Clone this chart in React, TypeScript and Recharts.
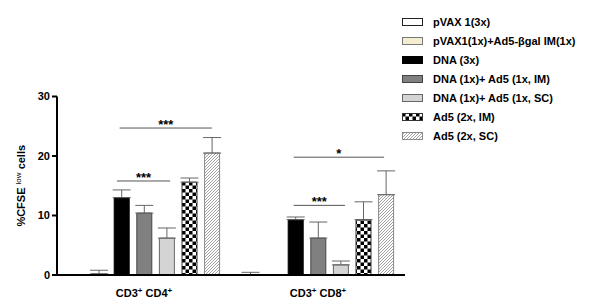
import { Bar, BarChart, ErrorBar, ReferenceLine, XAxis, YAxis } from "recharts";

const categories = ["CD4", "CD8"];
const catPos = [0.5, 1.5];

const seriesNames = [
  "pVAX 1(3x)",
  "pVAX1(1x)+Ad5-βgal IM(1x)",
  "DNA (3x)",
  "DNA (1x)+ Ad5 (1x, IM)",
  "DNA (1x)+ Ad5 (1x, SC)",
  "Ad5 (2x, IM)",
  "Ad5 (2x, SC)",
];

// mean per series, [CD4, CD8]
const means = [
  [0, 0.05],
  [0.2, 0],
  [13.0, 9.3],
  [10.4, 6.2],
  [6.2, 1.7],
  [15.6, 9.3],
  [20.5, 13.5],
];

// upper error (SEM) per series, [CD4, CD8]
const errors = [
  [null, 0.4],
  [0.6, null],
  [1.3, 0.45],
  [1.3, 2.7],
  [1.7, 0.65],
  [0.7, 3.0],
  [2.6, 4.0],
];

const yTicks = [0, 10, 20, 30];

// significance brackets: [x1, x2, y, label] with x on a 0..2 scale
const brackets: [number, number, number, string][] = [
  [0.36, 0.89, 24.7, "***"],
  [0.345, 0.65, 15.8, "***"],
  [1.36, 1.88, 19.8, "*"],
  [1.36, 1.655, 11.7, "***"],
];

const fills = ["#ffffff", "#f3eecf", "#000000", "#808080", "#d4d4d4", "url(#checker)", "url(#hatch)"];
const strokes = ["#222", "#777", "#000", "#444", "#666", "#333", "#888"];

const data = categories.map((c, i) => {
  const row: any = { cat: c, pos: catPos[i] };
  means.forEach((m, s) => {
    row["s" + s] = m[i];
    row["e" + s] = errors[s][i] == null ? null : [0, errors[s][i]];
  });
  return row;
});

const font = "'Liberation Sans', Arial, sans-serif";

function CatTick({ x, y, payload }: any) {
  const n = payload.value.replace("CD", "");
  return (
    <text x={x} y={y + 14} textAnchor="middle" fontFamily={font} fontSize={11} fontWeight="bold" fill="#000">
      <tspan>CD3</tspan>
      <tspan dy={-4} fontSize={8}>+</tspan>
      <tspan dy={4}> CD{n}</tspan>
      <tspan dy={-4} fontSize={8}>+</tspan>
    </text>
  );
}

function YLabel({ viewBox }: any) {
  const cx = viewBox.x + 25;
  const cy = viewBox.y + viewBox.height / 2;
  return (
    <text
      x={cx}
      y={cy}
      transform={`rotate(-90 ${cx} ${cy})`}
      textAnchor="middle"
      fontFamily={font}
      fontSize={11}
      fontWeight="bold"
      fill="#000"
    >
      <tspan>%CFSE </tspan>
      <tspan dy={-4} fontSize={8} fontWeight="normal">low</tspan>
      <tspan dy={4}> cells</tspan>
    </text>
  );
}

function LegendBox() {
  return (
    <div style={{ position: "absolute", left: 402, top: 12, fontFamily: font, fontSize: 11, fontWeight: "bold", color: "#000" }}>
      {seriesNames.map((n, i) => (
        <div key={n} style={{ display: "flex", alignItems: "center", height: 19.1 }}>
          <svg width={21} height={8} style={{ marginRight: 10 }}>
            <rect x={0.5} y={0.5} width={20} height={7} fill={fills[i]} stroke={strokes[i]} strokeWidth={1} />
          </svg>
          <span>{n}</span>
        </div>
      ))}
    </div>
  );
}

export default function App() {
  return (
    <div style={{ position: "absolute", left: 0, top: 0, width: 600, height: 304, background: "#fff" }}>
      <BarChart
        width={600}
        height={304}
        data={data}
        margin={{ top: 96.5, right: 195, bottom: 0, left: 0 }}
        barSize={15}
        barGap={7.6}
      >
        <defs>
          <pattern id="checker" patternUnits="userSpaceOnUse" width={7} height={7}>
            <rect width={7} height={7} fill="#fff" />
            <rect width={3.5} height={3.5} fill="#000" />
            <rect x={3.5} y={3.5} width={3.5} height={3.5} fill="#000" />
          </pattern>
          <pattern id="hatch" patternUnits="userSpaceOnUse" width={3} height={3}>
            <rect width={3} height={3} fill="#fff" />
            <path d="M-1,1 L1,-1 M0,3 L3,0 M2,4 L4,2" stroke="#8a8a8a" strokeWidth={0.8} />
          </pattern>
        </defs>
        <XAxis
          dataKey="cat"
          height={29}
          tickLine={false}
          axisLine={{ stroke: "#000", strokeWidth: 2 }}
          tick={<CatTick />}
        />
        <XAxis xAxisId="num" dataKey="pos" type="number" domain={[0, 2]} allowDataOverflow hide />
        <YAxis
          width={57}
          domain={[0, 30]}
          ticks={yTicks}
          tickSize={5}
          axisLine={{ stroke: "#000", strokeWidth: 2 }}
          tickLine={{ stroke: "#000", strokeWidth: 2 }}
          tick={{ fontFamily: font, fontSize: 11, fontWeight: "bold", fill: "#000" }}
          label={<YLabel />}
        />
        {seriesNames.map((n, i) => (
          <Bar
            key={n}
            dataKey={"s" + i}
            name={n}
            fill={fills[i]}
            stroke={strokes[i]}
            strokeWidth={1}
            isAnimationActive={false}
          >
            <ErrorBar dataKey={"e" + i} width={9} stroke="#666" strokeWidth={1} direction="y" />
          </Bar>
        ))}
        {brackets.map(([x1, x2, y, lab], i) => (
          <ReferenceLine
            key={i}
            xAxisId="num"
            segment={[
              { x: x1, y },
              { x: x2, y },
            ]}
            stroke="#555"
            strokeWidth={1}
            label={{
              value: lab,
              position: "top",
              fontFamily: font,
              fontSize: 13,
              fontWeight: "bold",
              fill: "#000",
              offset: -1,
            }}
          />
        ))}
      </BarChart>
      <LegendBox />
    </div>
  );
}
